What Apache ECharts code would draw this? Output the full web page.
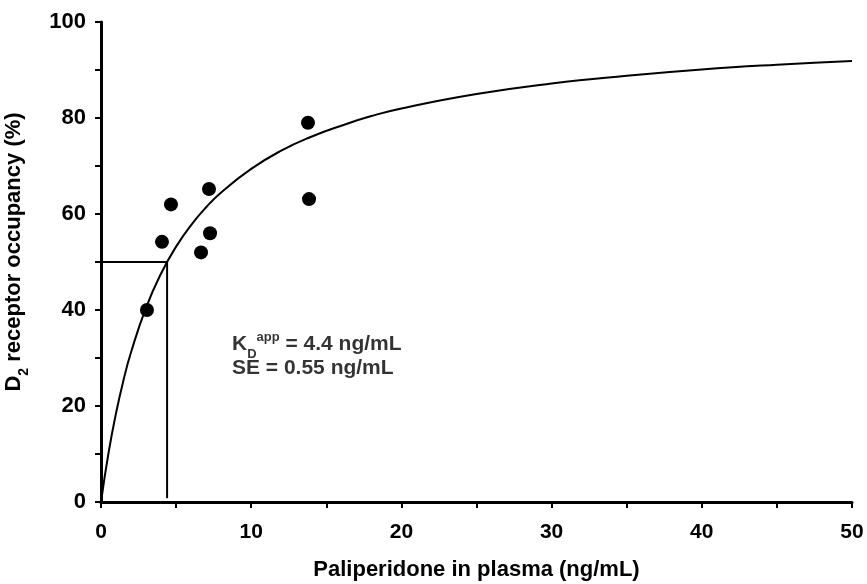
<!DOCTYPE html>
<html>
<head>
<meta charset="utf-8">
<script src="https://cdn.jsdelivr.net/npm/echarts@6/dist/echarts.min.js"></script>
<style>
  html, body { margin: 0; padding: 0; background: #fff; }
  #chart { width: 867px; height: 584px; }
</style>
</head>
<body>
<div id="chart"></div>
<script>
// fitted occupancy curve
var curveX = [0, 0.5, 1, 1.5, 2, 3, 4, 5, 6, 7, 8, 10, 12, 14, 16, 18, 20, 25, 30, 35, 40, 45, 50];
var curveY = [0, 10.2, 18.5, 25.4, 31.2, 40.5, 47.6, 53.2, 57.7, 61.4, 64.5, 69.4, 73.2, 76.1, 78.4, 80.4, 82.0, 85.0, 87.2, 88.8, 90.1, 91.1, 91.9];

// observed subjects
var obsX = [3.06, 4.06, 4.66, 6.66, 7.19, 7.26, 13.78, 13.85];
var obsY = [40, 54.2, 62, 52, 65.2, 56, 79, 63.1];

var kd = 4.4;
var halfOcc = 50;
var annotPos = [8.72, 30.3];

var xTicks = [0, 10, 20, 30, 40, 50];
var yTicks = [0, 20, 40, 60, 80, 100];

function zip(a, b) {
    var out = [];
    for (var i = 0; i < a.length; i++) out.push([a[i], b[i]]);
    return out;
}

var myChart = echarts.init(document.getElementById('chart'));
var font = 'Liberation Sans, Arial, sans-serif';
var option = {
    animation: false,
    textStyle: { fontFamily: font },
    grid: { left: 101, right: 15, top: 22, bottom: 82, containLabel: false, outerBoundsMode: 'none' },
    xAxis: {
        type: 'value',
        min: xTicks[0],
        max: xTicks[xTicks.length - 1],
        interval: 10,
        name: 'Paliperidone in plasma (ng/mL)',
        nameLocation: 'middle',
        nameGap: 57,
        nameTextStyle: { color: '#000', fontSize: 22, fontWeight: 'bold', fontFamily: font },
        axisLine: { lineStyle: { color: '#000', width: 3 } },
        axisTick: { inside: false, length: 6, lineStyle: { color: '#000', width: 2 } },
        minorTick: { show: true, splitNumber: 2, length: 6, lineStyle: { color: '#000', width: 2 } },
        axisLabel: { color: '#000', fontSize: 21, fontWeight: 'bold', margin: 20, fontFamily: font },
        splitLine: { show: false }
    },
    yAxis: {
        type: 'value',
        min: yTicks[0],
        max: yTicks[yTicks.length - 1],
        interval: 20,
        name: '{t|D}{s|2}{t| receptor occupancy (%)}',
        nameLocation: 'middle',
        nameRotate: 90,
        nameGap: 70,
        nameTextStyle: {
            color: '#000',
            padding: [0, 0, 0, 20],
            rich: {
                t: { fontSize: 22, fontWeight: 'bold', fontFamily: font, color: '#000', lineHeight: 28, verticalAlign: 'top' },
                s: { fontSize: 14, fontWeight: 'bold', fontFamily: font, color: '#000', lineHeight: 28, verticalAlign: 'bottom' }
            }
        },
        axisLine: { show: true, lineStyle: { color: '#000', width: 3 } },
        axisTick: { show: true, inside: false, length: 6, lineStyle: { color: '#000', width: 2 } },
        minorTick: { show: true, splitNumber: 2, length: 6, lineStyle: { color: '#000', width: 2 } },
        axisLabel: { color: '#000', fontSize: 22, fontWeight: 'bold', margin: 15, fontFamily: font },
        splitLine: { show: false }
    },
    series: [
        {
            name: 'fit',
            type: 'line',
            data: zip(curveX, curveY),
            smooth: true,
            showSymbol: false,
            lineStyle: { color: '#000', width: 2 },
            z: 3
        },
        {
            name: 'kd-h',
            type: 'line',
            data: [[0, halfOcc], [kd, halfOcc]],
            showSymbol: false,
            lineStyle: { color: '#000', width: 2 }
        },
        {
            name: 'kd-v',
            type: 'line',
            data: [[kd, 0.8], [kd, halfOcc]],
            showSymbol: false,
            lineStyle: { color: '#000', width: 2 }
        },
        {
            name: 'observed',
            type: 'scatter',
            data: zip(obsX, obsY),
            symbol: 'circle',
            symbolSize: 14,
            itemStyle: { color: '#000', opacity: 1 },
            z: 4
        },
        {
            name: 'annot',
            type: 'scatter',
            data: [annotPos],
            symbolSize: 0,
            silent: true,
            label: {
                show: true,
                position: 'right',
                distance: 0,
                formatter: '{k|K}{sub|D}{sup|app}{k| = 4.4 ng/mL}\n{k|SE = 0.55 ng/mL}',
                rich: {
                    k: { fontSize: 21, fontWeight: 'bold', color: '#000', fontFamily: font, lineHeight: 24 },
                    sub: { fontSize: 13, fontWeight: 'bold', color: '#000', fontFamily: font, lineHeight: 24, verticalAlign: 'bottom', padding: [0, 0, -4, 0] },
                    sup: { fontSize: 13, fontWeight: 'bold', color: '#000', fontFamily: font, lineHeight: 24, verticalAlign: 'top', padding: [-2, 0, 0, 0] }
                }
            }
        }
    ]
};
myChart.setOption(option);
</script>
</body>
</html>
